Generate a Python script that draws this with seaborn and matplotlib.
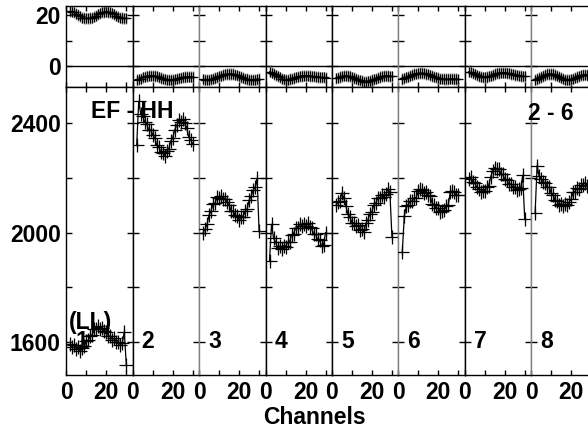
"""Bandpass plot: phase (top) and amplitude (bottom) per sub-band, EF - HH baseline."""

import matplotlib

matplotlib.use("Agg")
import matplotlib.pyplot as plt
import pandas as pd
import seaborn as sns

# channels plotted in every sub-band
channels = list(range(2, 31))

# amplitude per sub-band (channels 2..30)
amp_1 = [1590, 1582, 1588, 1575, 1580, 1565, 1578, 1583, 1602, 1605, 1622, 1626, 1645, 1648, 1656,
         1645, 1650, 1638, 1636, 1622, 1620, 1608, 1612, 1598, 1600, 1588, 1596, 1635, 1515]
amp_2 = [2320, 2480, 2435, 2428, 2405, 2398, 2375, 2376, 2358, 2348, 2320, 2314, 2296, 2292, 2282,
         2298, 2306, 2334, 2346, 2376, 2392, 2412, 2405, 2414, 2400, 2384, 2350, 2338, 2325]
amp_3 = [2000, 2012, 2030, 2064, 2080, 2104, 2108, 2130, 2128, 2134, 2122, 2124, 2110, 2102, 2080,
         2078, 2064, 2062, 2046, 2055, 2058, 2078, 2086, 2118, 2132, 2155, 2165, 2198, 2005]
amp_4 = [1895, 2030, 1980, 1965, 1945, 1950, 1938, 1952, 1948, 1964, 1965, 1990, 1996, 2016, 2018,
         2030, 2025, 2030, 2022, 2034, 2020, 2015, 1996, 1994, 1976, 1972, 1952, 1955, 2000]
amp_5 = [2100, 2110, 2115, 2145, 2125, 2098, 2066, 2058, 2036, 2035, 2024, 2026, 2010, 2012, 2002,
         2034, 2046, 2068, 2076, 2102, 2108, 2128, 2126, 2138, 2130, 2142, 2160, 2148, 1985]
amp_6 = [1930, 2060, 2098, 2102, 2115, 2115, 2128, 2128, 2152, 2158, 2155, 2146, 2150, 2136, 2132,
         2106, 2102, 2088, 2090, 2076, 2080, 2082, 2098, 2102, 2148, 2152, 2148, 2136, 2138]
amp_7 = [2195, 2204, 2186, 2183, 2165, 2160, 2148, 2153, 2152, 2168, 2172, 2204, 2225, 2238, 2232,
         2233, 2216, 2213, 2196, 2193, 2178, 2178, 2166, 2168, 2156, 2160, 2162, 2210, 2050]
amp_8 = [2070, 2245, 2206, 2196, 2184, 2183, 2166, 2165, 2146, 2138, 2118, 2115, 2102, 2105, 2096,
         2103, 2102, 2111, 2122, 2148, 2150, 2163, 2158, 2173, 2175, 2183, 2172, 2173, 2162]

# phase per sub-band (degrees)
phase_1 = [21.5, 21.3, 21.0, 20.5, 20.0, 19.5, 19.0, 18.8, 18.7, 18.7, 18.8, 19.0, 19.3, 19.7, 20.2,
           20.6, 21.0, 21.2, 21.3, 21.2, 21.0, 20.6, 20.2, 19.8, 19.4, 19.0, 18.8, 18.7, 18.7]
phase_2 = [-5.2, -5.0, -4.7, -4.3, -4.0, -3.8, -3.6, -3.6, -3.6, -3.7, -3.9, -4.2, -4.5, -4.8, -5.0,
           -5.1, -5.2, -5.2, -5.1, -5.0, -4.8, -4.6, -4.4, -4.2, -4.1, -4.0, -4.0, -4.0, -4.1]
phase_3 = [-5.0, -5.1, -5.2, -5.2, -5.0, -4.8, -4.5, -4.2, -3.9, -3.6, -3.3, -3.1, -3.0, -2.9, -2.9,
           -3.0, -3.2, -3.5, -3.8, -4.1, -4.4, -4.7, -4.9, -5.1, -5.2, -5.2, -5.1, -5.0, -4.9]
phase_4 = [-2.0, -2.4, -2.9, -3.4, -3.9, -4.3, -4.7, -5.0, -5.2, -5.1, -4.9, -4.7, -4.5, -4.3, -4.0,
           -3.8, -3.7, -3.6, -3.6, -3.6, -3.7, -3.8, -3.9, -4.0, -4.1, -4.2, -4.3, -4.3, -4.4]
phase_5 = [-4.6, -4.4, -4.1, -3.8, -3.6, -3.6, -3.7, -3.9, -4.2, -4.5, -4.8, -5.1, -5.4, -5.7, -5.9,
           -5.9, -5.8, -5.6, -5.3, -5.0, -4.7, -4.4, -4.1, -3.9, -3.7, -3.6, -3.7, -3.8, -3.9]
phase_6 = [-4.9, -4.6, -4.3, -4.0, -3.6, -3.3, -3.0, -2.8, -2.7, -2.6, -2.6, -2.7, -2.9, -3.1, -3.4,
           -3.7, -4.0, -4.3, -4.5, -4.7, -4.8, -4.9, -4.9, -4.9, -4.8, -4.8, -4.9, -4.9, -5.0]
phase_7 = [-2.0, -2.3, -2.7, -3.1, -3.5, -3.8, -4.0, -4.2, -4.2, -4.1, -3.9, -3.6, -3.3, -3.0, -2.7,
           -2.5, -2.4, -2.4, -2.4, -2.5, -2.7, -2.9, -3.1, -3.3, -3.5, -3.6, -3.7, -3.8, -3.9]
phase_8 = [-5.2, -4.9, -4.5, -4.1, -3.7, -3.3, -3.0, -2.9, -2.9, -3.0, -3.3, -3.6, -4.0, -4.4, -4.8,
           -5.1, -5.2, -5.2, -5.0, -4.7, -4.4, -4.1, -3.8, -3.5, -3.3, -3.2, -3.3, -3.5, -3.8]

amp_err = 12.0
phase_err = 2.2

panel_labels = ["1", "2", "3", "4", "5", "6", "7", "8"]
x_ticks = [0, 10, 20, 30]
x_ticklabels = ["0", "", "20", ""]
amp_ticks = [1600, 1800, 2000, 2200, 2400]
amp_ticklabels = ["1600", "", "2000", "", "2400"]
phase_ticks = [0, 10, 20]
phase_ticklabels = ["0", "", "20"]

amps = [amp_1, amp_2, amp_3, amp_4, amp_5, amp_6, amp_7, amp_8]
phases = [phase_1, phase_2, phase_3, phase_4, phase_5, phase_6, phase_7, phase_8]

sns.set_theme(style="ticks")
plt.rcParams["font.family"] = ["Liberation Sans", "DejaVu Sans"]
plt.rcParams["font.weight"] = "bold"
plt.rcParams["text.color"] = "black"

W, H = 588, 429
fig = plt.figure(figsize=(W / 100, H / 100), dpi=100)
fig.patch.set_facecolor("white")

left_px = 66.3
panel_w = 66.4
top_y0, top_y1 = 6, 87
main_y0, main_y1 = 87, 375
grey_edges = {2, 5, 7}  # boundaries drawn in grey (after panel 2, 5 and 7)
GREY = "#808080"
FS = 16.5


def style_axes(ax, ticks, ticklabels, first, i):
    ax.set_facecolor("white")
    for side in ax.spines.values():
        side.set_color("black")
        side.set_linewidth(1.0)
    if (i + 1) in grey_edges:
        ax.spines["right"].set_color(GREY)
    if i in grey_edges:
        ax.spines["left"].set_color(GREY)
    ax.set_yticks(ticks)
    ax.set_yticklabels(ticklabels if first else [])
    ax.set_xticks(x_ticks)
    ax.tick_params(axis="both", direction="in", top=True, right=True,
                   labelsize=FS, width=1.0, pad=4, colors="black")
    ax.tick_params(axis="y", length=4.3)
    ax.tick_params(axis="x", length=3.6)
    ax.set_xlim(0, panel_w / 2)
    ax.set_xlabel("")
    ax.set_ylabel("")


def draw_series(ax, values, err, msize):
    df = pd.DataFrame({"ch": channels, "val": values})
    ax.errorbar(df["ch"], df["val"], yerr=err, fmt="none",
                ecolor=GREY, elinewidth=1.0, zorder=2)
    sns.lineplot(data=df, x="ch", y="val", ax=ax, color="black", lw=0.9,
                 marker="+", markersize=msize, markeredgewidth=0.9,
                 markeredgecolor="black", markerfacecolor="black", zorder=3)


for i in range(8):
    x0 = (left_px + i * panel_w) / W
    w = panel_w / W

    # phase panel
    axp = fig.add_axes([x0, 1 - top_y1 / H, w, (top_y1 - top_y0) / H])
    axp.axhline(0, color="black", lw=1.0, zorder=1)
    draw_series(axp, phases[i], phase_err, 7)
    axp.set_ylim(-8, 23.5)
    style_axes(axp, phase_ticks, phase_ticklabels, i == 0, i)
    axp.set_xticklabels([])

    # amplitude panel
    axa = fig.add_axes([x0, 1 - main_y1 / H, w, (main_y1 - main_y0) / H])
    draw_series(axa, amps[i], amp_err, 9.5)
    axa.set_ylim(1478, 2533)
    style_axes(axa, amp_ticks, amp_ticklabels, i == 0, i)
    axa.set_xticklabels(x_ticklabels)
    axa.text(9 / panel_w, 0.115, panel_labels[i], transform=axa.transAxes,
             fontsize=FS, fontweight="bold", color="black",
             ha="left", va="center", zorder=1)

fig.text(132 / W, 1 - 112 / H, "EF - HH", fontsize=FS, fontweight="bold",
         color="black", ha="center", va="center")
fig.text(551 / W, 1 - 113 / H, "2 - 6", fontsize=FS, fontweight="bold",
         color="black", ha="center", va="center")
fig.text(90 / W, 1 - 323 / H, "(LL)", fontsize=FS, fontweight="bold",
         color="black", ha="center", va="center")
fig.text(314 / W, 1 - 417 / H, "Channels", fontsize=FS, fontweight="bold",
         color="black", ha="center", va="center")

fig.savefig("out.png", dpi=100, facecolor="white")
